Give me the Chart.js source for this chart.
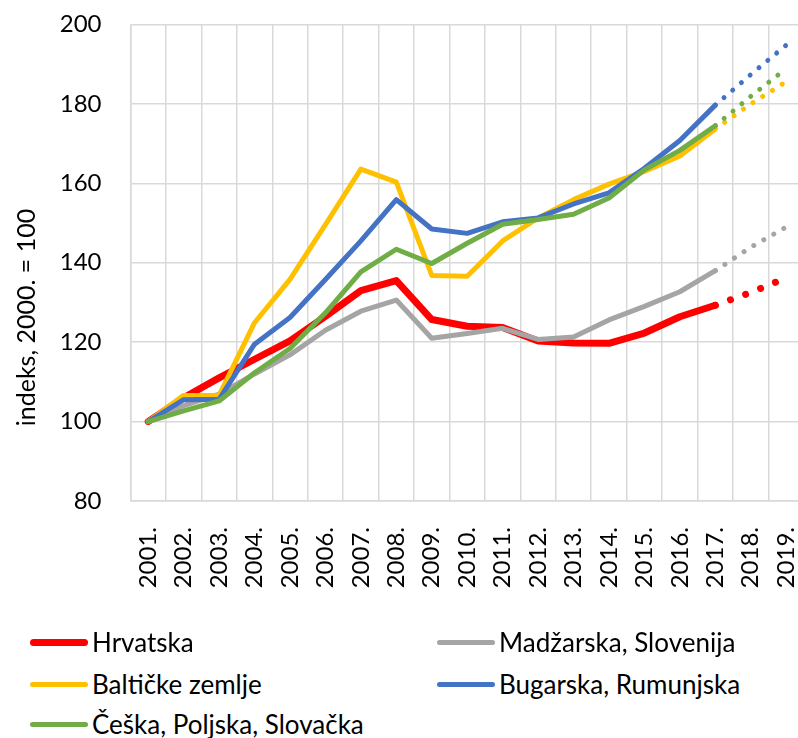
<!DOCTYPE html>
<html>
<head>
<meta charset="utf-8">
<script src="https://cdn.jsdelivr.net/npm/chart.js@4/dist/chart.umd.min.js"></script>
<style>
  html, body { margin: 0; padding: 0; background: #fff; overflow: hidden; }
  #wrap { position: relative; width: 798px; height: 738px; overflow: hidden; background: #fff; }
  #cv { position: absolute; left: 0; top: 0; }
  .leg { position: absolute; font-family: Lato, sans-serif; font-size: 26px; color: #000; white-space: nowrap; }
  .leg .ln { position: absolute; left: 0; height: 6px; width: 58px; border-radius: 3px; }
  .leg .tx { position: absolute; left: 62px; top: 0; line-height: 30px; transform: translateY(-50%); }
</style>
</head>
<body>
<div id="wrap">
  <canvas id="cv" width="841" height="630"></canvas>
  <div id="legend"></div>
</div>
<script>
// ---- data ----
const years = ['2001.','2002.','2003.','2004.','2005.','2006.','2007.','2008.','2009.','2010.',
               '2011.','2012.','2013.','2014.','2015.','2016.','2017.','2018.','2019.'];
const hrvatska          = [100, 106.0, 111.0, 115.7, 120.3, 126.5, 133.0, 135.5, 125.7, 124.0,
                           123.7, 120.3, 119.8, 119.7, 122.3, 126.4, 129.3, 132.5, 136.2];
const madzarskaSlovenija = [100, 104.0, 106.9, 112.0, 116.8, 123.0, 127.8, 130.6, 121.0, 122.2,
                           123.5, 120.7, 121.3, 125.6, 129.0, 132.7, 138.0, 143.9, 149.0];
const balticke          = [100, 106.6, 106.6, 124.9, 135.8, 149.6, 163.6, 160.3, 136.8, 136.6,
                           145.5, 151.3, 155.9, 159.8, 163.0, 166.9, 173.7, 180.0, 185.6];
const bugarskaRumunjska = [100, 105.5, 105.6, 119.5, 126.2, 135.8, 145.5, 155.9, 148.5, 147.4,
                           150.3, 151.3, 154.8, 157.6, 163.8, 170.8, 179.7, 187.4, 194.8];
const ceskaPoljskaSlovacka = [100, 102.7, 105.2, 112.3, 118.4, 127.4, 137.7, 143.4, 139.8, 144.9,
                           149.7, 150.9, 152.2, 156.3, 163.4, 168.3, 174.5, 181.9, 188.9];
const lastActualYear = '2017.';
const yMin = 80, yMax = 200, yStep = 20;
const yTitle = 'indeks, 2000. = 100';

const seriesNames = ['Hrvatska', 'Madžarska, Slovenija', 'Baltičke zemlje', 'Bugarska, Rumunjska', 'Češka, Poljska, Slovačka'];
const seriesData  = [hrvatska, madzarskaSlovenija, balticke, bugarskaRumunjska, ceskaPoljskaSlovacka];
const seriesColors = ['#FF0000', '#A5A5A5', '#FFC000', '#4472C4', '#70AD47'];
const seriesWidths = [7, 5, 5, 5, 5];
const seriesOrder = [5, 4, 3, 2, 1];

const lastIdx = years.indexOf(lastActualYear);
const FONT = 'Lato, sans-serif';

const datasets = seriesNames.map((name, i) => {
  const lw = seriesWidths[i];
  return {
    label: name,
    data: seriesData[i],
    borderColor: seriesColors[i],
    backgroundColor: seriesColors[i],
    borderWidth: lw,
    borderCapStyle: 'round',
    borderJoinStyle: 'round',
    pointRadius: 0,
    pointHoverRadius: 0,
    tension: 0,
    fill: false,
    order: seriesOrder[i],
    segment: {
      borderDash: ctx => ctx.p0DataIndex >= lastIdx ? [0.001, lw * 2.3] : undefined,
      borderCapStyle: 'round'
    }
  };
});

const yTitlePlugin = {
  id: 'yTitle',
  afterDraw(chart) {
    const c = chart.ctx;
    c.save();
    c.translate(27, 317.5);
    c.rotate(-Math.PI / 2);
    c.font = '25px ' + FONT;
    c.fillStyle = '#000';
    c.textAlign = 'center';
    c.textBaseline = 'middle';
    c.fillText(yTitle, 0, 0);
    c.restore();
  }
};

const GRID = '#D9D9D9';

new Chart(document.getElementById('cv'), {
  type: 'line',
  data: { labels: years, datasets },
  options: {
    responsive: false,
    animation: false,
    events: [],
    layout: { padding: { top: 24.5, right: 1, bottom: 0, left: 0 } },
    plugins: { legend: { display: false }, tooltip: { enabled: false } },
    scales: {
      x: {
        type: 'category',
        offset: true,
        grid: { offset: true, color: GRID, lineWidth: 1.5, drawTicks: false },
        border: { color: GRID, width: 1.5 },
        ticks: {
          autoSkip: false, minRotation: 90, maxRotation: 90,
          padding: 26, color: '#000',
          font: { family: FONT, size: 24 }
        },
        afterFit(s) { s.height = 129; }
      },
      y: {
        min: yMin, max: yMax,
        grid: { color: GRID, lineWidth: 1.5, drawTicks: true, tickLength: 29, tickColor: 'rgba(0,0,0,0)' },
        border: { color: GRID, width: 1.5 },
        ticks: {
          stepSize: yStep, padding: 0, color: '#000',
          font: { family: FONT, size: 24 }
        },
        afterFit(s) { s.width = 130.5; }
      }
    }
  },
  plugins: [yTitlePlugin]
});

// ---- legend (two columns, like the reference) ----
const legendPos = [
  { x: 30, y: 642 }, { x: 437, y: 642 },
  { x: 30, y: 684 }, { x: 437, y: 684 },
  { x: 30, y: 724 }
];
const legendOrder = [0, 1, 2, 3, 4];
const legEl = document.getElementById('legend');
legendOrder.forEach((si, k) => {
  const p = legendPos[k];
  const d = document.createElement('div');
  d.className = 'leg';
  d.style.left = p.x + 'px';
  d.style.top = p.y + 'px';
  const ln = document.createElement('span');
  ln.className = 'ln';
  const h = seriesWidths[si];
  ln.style.height = h + 'px';
  ln.style.top = (-h / 2) + 'px';
  ln.style.borderRadius = (h / 2) + 'px';
  ln.style.background = seriesColors[si];
  const tx = document.createElement('span');
  tx.className = 'tx';
  tx.textContent = seriesNames[si];
  d.appendChild(ln); d.appendChild(tx);
  legEl.appendChild(d);
});
</script>
</body>
</html>
